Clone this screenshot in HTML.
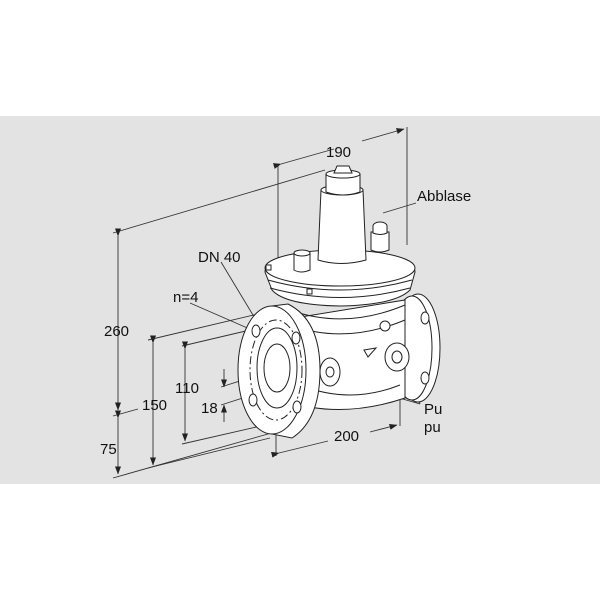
<!DOCTYPE html>
<html><head><meta charset="utf-8"><style>
html,body{margin:0;padding:0;background:#fff;width:600px;height:600px;overflow:hidden}
svg{display:block}
text{font-family:"Liberation Sans",Arial,sans-serif;font-size:15px;fill:#111}
</style></head><body>
<svg width="600" height="600" viewBox="0 0 600 600">
<defs>
<marker id="a" markerWidth="8" markerHeight="6" refX="7.5" refY="3" orient="auto" markerUnits="userSpaceOnUse"><path d="M0,0 L8,3 L0,6 z" fill="#222"/></marker>
</defs>
<rect x="0" y="116" width="600" height="368" fill="#e3e3e3"/>
<g stroke="#333" stroke-width="0.9" fill="none">
<line x1="113" y1="233" x2="325" y2="170"/>
<line x1="113" y1="416" x2="138" y2="409"/>
<line x1="113" y1="478" x2="275" y2="432"/>
<line x1="148" y1="340" x2="258" y2="314"/>
<line x1="148" y1="468" x2="270" y2="438"/>
<line x1="182" y1="346" x2="250" y2="330"/>
<line x1="182" y1="444" x2="265" y2="425"/>
<line x1="221" y1="387" x2="268" y2="372"/>
<line x1="221" y1="405" x2="255" y2="394"/>
<line x1="278" y1="165" x2="278" y2="292"/>
<line x1="407" y1="127" x2="407" y2="245"/>
<line x1="276" y1="432" x2="276" y2="456"/>
<line x1="400" y1="400" x2="400" y2="426"/>
<line x1="118" y1="236" x2="118" y2="410" marker-start="url(#a)" marker-end="url(#a)"/>
<line x1="118" y1="418" x2="118" y2="474" marker-start="url(#a)" marker-end="url(#a)"/>
<line x1="153" y1="343" x2="153" y2="465" marker-start="url(#a)" marker-end="url(#a)"/>
<line x1="185" y1="349" x2="185" y2="441" marker-start="url(#a)" marker-end="url(#a)"/>
<line x1="224" y1="369" x2="224" y2="387" marker-end="url(#a)"/>
<line x1="224" y1="422" x2="224" y2="405" marker-end="url(#a)"/>
<line x1="281" y1="164" x2="334" y2="149" marker-start="url(#a)"/>
<line x1="362" y1="141" x2="404" y2="129" marker-end="url(#a)"/>
<line x1="279" y1="453" x2="328" y2="441" marker-start="url(#a)"/>
<line x1="370" y1="432" x2="397" y2="425" marker-end="url(#a)"/>
<line x1="221" y1="262" x2="268" y2="340"/>
<line x1="190" y1="303" x2="252" y2="330"/>
<line x1="383" y1="213" x2="416" y2="203"/>
<line x1="330" y1="378" x2="420" y2="404"/>
<line x1="398" y1="357" x2="420" y2="404"/>
</g>
<g stroke="#222" stroke-width="1" fill="#fff">
<ellipse cx="418" cy="348" rx="22" ry="54"/>
<ellipse cx="412" cy="348" rx="20" ry="52"/>
<ellipse cx="425" cy="318" rx="4" ry="6"/>
<ellipse cx="425" cy="378" rx="4" ry="6"/>
<path d="M282,320 L282,400 Q340,420 405,398 L405,300 Z"/>
<path d="M300,385 Q350,405 400,385" fill="none"/>
<path d="M290,310 Q345,330 405,305" fill="none"/>
<path d="M290,325 Q345,345 405,320" fill="none"/>
<path d="M265,272 Q265,255 340,250 Q415,255 415,272 L410,290 Q395,305 340,306 Q285,305 272,290 Z"/>
<ellipse cx="340" cy="268" rx="75" ry="18"/>
<path d="M268,280 Q340,300 412,280" fill="none"/>
<path d="M270,288 Q340,307 410,288" fill="none"/>
<rect x="266" y="265" width="5" height="5"/>
<rect x="307" y="289" width="5" height="5"/>
<path d="M321,190 L318,260 Q341,267 366,260 L363,190 Z"/>
<ellipse cx="342" cy="190" rx="21" ry="5"/>
<path d="M326,174 L326,192 Q343,198 360,192 L360,174 Z"/>
<ellipse cx="343" cy="174" rx="17" ry="4"/>
<path d="M337,166 L349,166 L352,173 L334,173 Z"/>
<path d="M294,253 L294,270 Q301,274 310,270 L310,253 Z"/>
<ellipse cx="302" cy="253" rx="8" ry="3"/>
<path d="M371,232 L371,250 Q380,254 389,250 L389,232 Z"/>
<ellipse cx="380" cy="226" rx="7" ry="4"/>
<path d="M373,226 L373,233 Q380,236 387,233 L387,226" />
<ellipse cx="330" cy="372" rx="10" ry="14"/>
<ellipse cx="330" cy="372" rx="4" ry="5"/>
<ellipse cx="397" cy="357" rx="12" ry="14"/>
<ellipse cx="397" cy="357" rx="5" ry="6"/>
<circle cx="385" cy="326" r="5"/>
<path d="M364,350 L376,348 L368,357 Z"/>
<path d="M272,306 L288,304 Q320,320 320,370 Q320,420 292,438 L272,434 Z" />
<ellipse cx="272" cy="370" rx="34" ry="64"/>
<ellipse cx="276" cy="370" rx="26" ry="50" fill="none" stroke-dasharray="8 3 2 3"/>
<ellipse cx="277" cy="368" rx="20" ry="40" fill="none"/>
<ellipse cx="277" cy="368" rx="13" ry="24"/>
<ellipse cx="256" cy="331" rx="4" ry="6"/>
<ellipse cx="296" cy="338" rx="4" ry="6"/>
<ellipse cx="253" cy="400" rx="4" ry="6"/>
<ellipse cx="297" cy="407" rx="4" ry="6"/>
</g>
<text x="104" y="336">260</text>
<text x="100" y="454">75</text>
<text x="142" y="410">150</text>
<text x="175" y="393">110</text>
<text x="201" y="413">18</text>
<text x="173" y="302">n=4</text>
<text x="198" y="262">DN 40</text>
<text x="326" y="157">190</text>
<text x="417" y="201">Abblase</text>
<text x="334" y="441">200</text>
<text x="424" y="414">Pu</text>
<text x="424" y="432">pu</text>
</svg>
</body></html>
